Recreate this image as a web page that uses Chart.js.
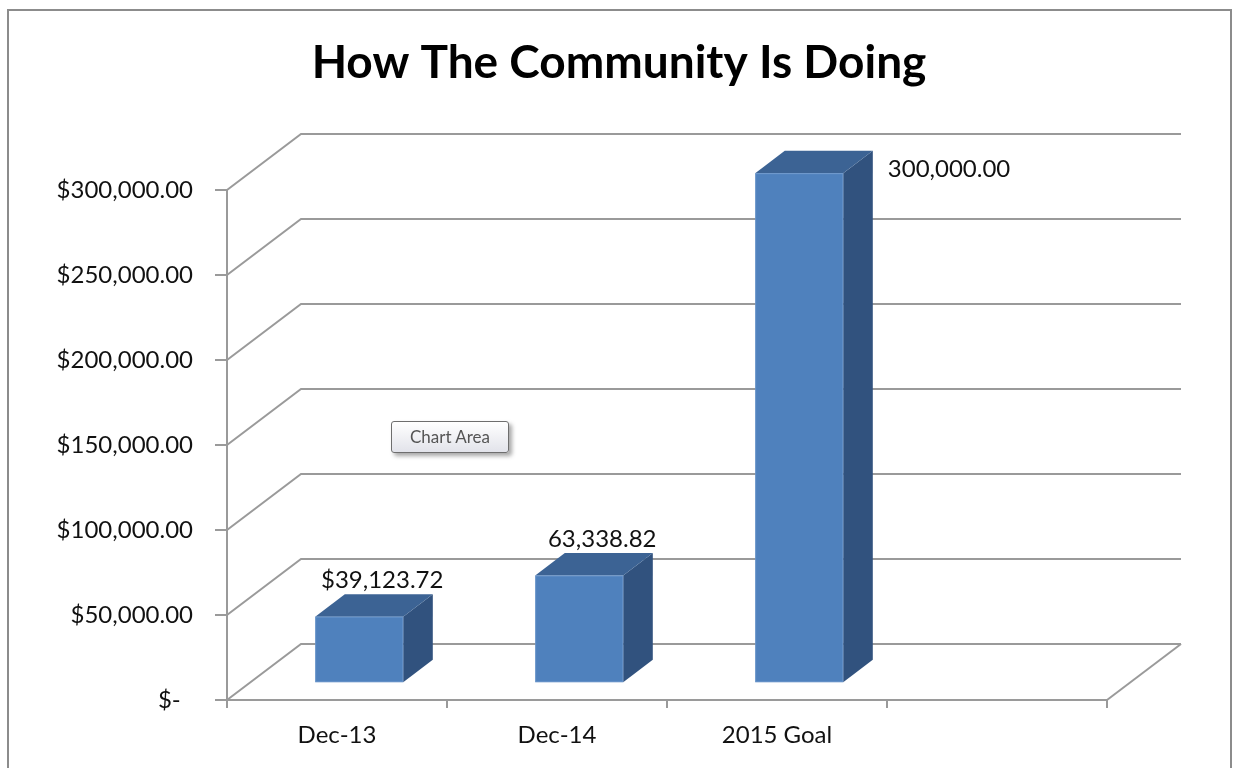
<!DOCTYPE html>
<html>
<head>
<meta charset="utf-8">
<title>How The Community Is Doing</title>
<script src="https://cdn.jsdelivr.net/npm/chart.js@4.4.1/dist/chart.umd.min.js"></script>
<style>
  html, body { margin: 0; padding: 0; background: #fff; }
  #wrap { position: relative; width: 1234px; height: 768px; overflow: hidden; }
  #chart { display: block; }
  .hover-tip {
    position: absolute; left: 391px; top: 421px; width: 116px; height: 30px;
    border: 1px solid #6e6e6e; border-radius: 3px;
    background: linear-gradient(#ffffff, #e2e3ea);
    box-shadow: 3px 3px 4px rgba(0, 0, 0, 0.35);
    font: 17px Lato, "Open Sans", sans-serif; color: #555;
    line-height: 30px; text-align: center;
  }
</style>
</head>
<body>
<div id="wrap">
  <canvas id="chart" width="1234" height="768"></canvas>
  <div class="hover-tip">Chart Area</div>
</div>
<script>
  const categories = ['Dec-13', 'Dec-14', '2015 Goal', ''];
  const amounts = [39123.72, 63338.82, 300000, null];
  const valueLabels = ['$39,123.72', '63,338.82', '300,000.00', ''];
  const yTickValues = [0, 50000, 100000, 150000, 200000, 250000, 300000];
  const yTickLabels = ['$-  ', '$50,000.00', '$100,000.00', '$150,000.00', '$200,000.00', '$250,000.00', '$300,000.00'];

  const TITLE = 'How The Community Is Doing';
  const FONT = 'Lato, "Open Sans", sans-serif';
  const GRID = '#9a9a9a';
  // depth of the 3d box (back wall offset) and where the bars sit inside it
  const DX = 74;
  const DY = -56;
  const BAR_FRONT = 0.3;
  const BAR_BACK = 0.7;

  const box3d = {
    id: 'box3d',
    beforeDatasetsDraw(chart) {
      const { ctx, chartArea } = chart;
      const y = chart.scales.y;
      ctx.save();
      ctx.strokeStyle = GRID;
      ctx.lineWidth = 2;
      yTickValues.forEach((v) => {
        const py = y.getPixelForValue(v);
        ctx.beginPath();
        ctx.moveTo(chartArea.left, py);
        ctx.lineTo(chartArea.left + DX, py + DY);
        ctx.lineTo(chartArea.right + DX, py + DY);
        ctx.stroke();
      });
      // floor right edge
      const base = y.getPixelForValue(0);
      ctx.beginPath();
      ctx.moveTo(chartArea.right, base);
      ctx.lineTo(chartArea.right + DX, base + DY);
      ctx.stroke();
      ctx.restore();
    },
    afterDatasetsDraw(chart) {
      const { ctx } = chart;
      const meta = chart.getDatasetMeta(0);
      ctx.save();
      meta.data.forEach((bar, i) => {
        if (amounts[i] == null) return;
        const half = bar.width / 2;
        const fx = BAR_FRONT * DX, fy = BAR_FRONT * DY;
        const bx = BAR_BACK * DX, by = BAR_BACK * DY;
        const l = bar.x - half + fx, r = bar.x + half + fx;
        const t = bar.y + fy, b = bar.base + fy;
        const ddx = bx - fx, ddy = by - fy;

        // side face
        ctx.fillStyle = '#31527e';
        ctx.beginPath();
        ctx.moveTo(r, t);
        ctx.lineTo(r + ddx, t + ddy);
        ctx.lineTo(r + ddx, b + ddy);
        ctx.lineTo(r, b);
        ctx.closePath();
        ctx.fill();

        // top face
        ctx.fillStyle = '#3c6394';
        ctx.beginPath();
        ctx.moveTo(l, t);
        ctx.lineTo(l + ddx, t + ddy);
        ctx.lineTo(r + ddx, t + ddy);
        ctx.lineTo(r, t);
        ctx.closePath();
        ctx.fill();

        // front face
        ctx.fillStyle = '#4f81bd';
        ctx.fillRect(l, t, r - l, b - t);
        ctx.strokeStyle = 'rgba(120,160,210,0.6)';
        ctx.lineWidth = 1;
        ctx.strokeRect(l + 0.5, t + 0.5, r - l - 1, b - t - 1);

        // value label
        ctx.fillStyle = '#111';
        ctx.font = `24px ${FONT}`;
        ctx.textBaseline = 'middle';
        if (i === 2) {
          ctx.textAlign = 'left';
          ctx.fillText(valueLabels[i], r + ddx + 15, t - 4);
        } else {
          ctx.textAlign = 'center';
          ctx.fillText(valueLabels[i], bar.x + fx + 23, t - 36);
        }
      });
      ctx.restore();
    },
    afterDraw(chart) {
      const { ctx } = chart;
      ctx.save();
      ctx.strokeStyle = '#8c8c8c';
      ctx.lineWidth = 2;
      ctx.strokeRect(8, 10, 1223, 800);
      ctx.fillStyle = '#000';
      ctx.font = `bold 46px ${FONT}`;
      ctx.textAlign = 'center';
      ctx.textBaseline = 'alphabetic';
      ctx.fillText(TITLE, 619, 78);
      ctx.restore();
    },
  };

  new Chart(document.getElementById('chart'), {
    type: 'bar',
    data: {
      labels: categories,
      datasets: [{
        data: amounts,
        backgroundColor: 'rgba(0,0,0,0)',
        borderWidth: 0,
        barPercentage: 0.4,
        categoryPercentage: 1,
      }],
    },
    options: {
      responsive: false,
      animation: false,
      devicePixelRatio: 1,
      layout: { padding: { top: 190, right: 127, left: 0, bottom: 0 } },
      plugins: {
        legend: { display: false },
        tooltip: { enabled: false },
        title: { display: false },
      },
      scales: {
        x: {
          afterFit(scale) { scale.height = 68; },
          grid: { drawOnChartArea: false, drawTicks: true, tickLength: 8, color: GRID, lineWidth: 2, offset: true },
          border: { display: true, color: GRID, width: 2 },
          ticks: { color: '#111', font: { family: FONT, size: 24 }, padding: 13, maxRotation: 0 },
        },
        y: {
          min: 0,
          max: 300000,
          afterFit(scale) { scale.width = 227; },
          afterBuildTicks(scale) { scale.ticks = yTickValues.map((v) => ({ value: v })); },
          grid: { drawOnChartArea: false, drawTicks: true, tickLength: 12, color: GRID, lineWidth: 2 },
          border: { display: true, color: GRID, width: 2 },
          ticks: {
            color: '#111',
            font: { family: FONT, size: 24 },
            padding: 22,
            callback(value) {
              const idx = yTickValues.indexOf(value);
              return idx >= 0 ? yTickLabels[idx] : '';
            },
          },
        },
      },
    },
    plugins: [box3d],
  });
</script>
</body>
</html>
